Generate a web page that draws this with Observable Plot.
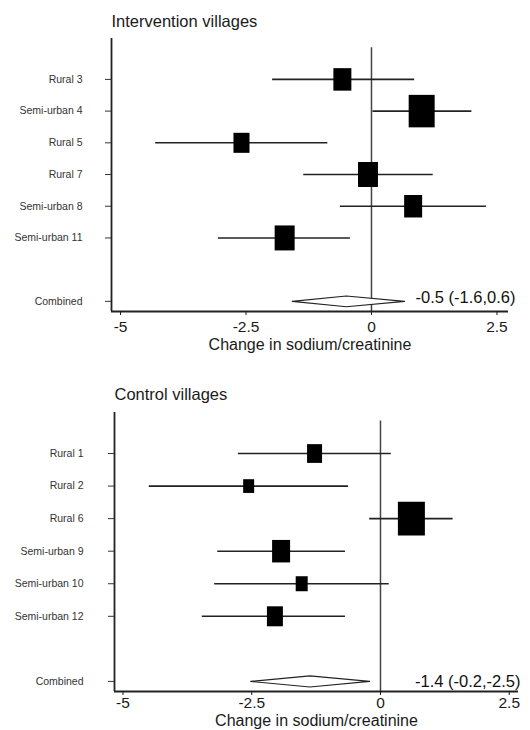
<!DOCTYPE html>
<html>
<head>
<meta charset="utf-8">
<script src="https://cdn.jsdelivr.net/npm/d3@7"></script>
<script src="https://cdn.jsdelivr.net/npm/@observablehq/plot@0.6"></script>
<style>
  body { margin: 0; background: #fff; font-family: "Liberation Sans", Arial, sans-serif; }
  #wrap { width: 530px; }
  svg { display: block; }
</style>
</head>
<body>
<div id="wrap"></div>
<script>
// ---- Data ----
const interVillages = ["Rural 3", "Semi-urban 4", "Rural 5", "Rural 7", "Semi-urban 8", "Semi-urban 11"];
const interEst = [-0.58, 1.0, -2.59, -0.07, 0.83, -1.73];
const interLo = [-1.97, 0.03, -4.30, -1.35, -0.62, -3.05];
const interHi = [0.86, 2.0, -0.87, 1.23, 2.29, -0.42];
const interWeight = [13.6, 28.4, 10.8, 16.8, 13.6, 16.8];
const interCombined = [-0.5, -1.58, 0.66];
const interCombinedLabel = "-0.5 (-1.6,0.6)";

const ctrlVillages = ["Rural 1", "Rural 2", "Rural 6", "Semi-urban 9", "Semi-urban 10", "Semi-urban 12"];
const ctrlEst = [-1.28, -2.56, 0.6, -1.93, -1.53, -2.05];
const ctrlLo = [-2.76, -4.49, -0.21, -3.16, -3.22, -3.46];
const ctrlHi = [0.21, -0.62, 1.41, -0.68, 0.17, -0.68];
const ctrlWeight = [12.5, 6.7, 40.5, 18.0, 8.0, 14.2];
const ctrlCombined = [-1.37, -2.52, -0.21];
const ctrlCombinedLabel = "-1.4 (-0.2,-2.5)";

const xTicks = [-5, -2.5, 0, 2.5];
const combinedName = "Combined";
const xLabel = "Change in sodium/creatinine";

// ---- Helpers ----
const tallSquare = {
  draw(ctx, size) {
    const r = Math.sqrt(size / Math.PI);
    ctx.rect(-r, -1.25 * r, 2 * r, 2.5 * r);
  }
};

function panel(opts) {
  const {title, villages, est, lo, hi, weight, combined, combinedLabel,
         height, marginTop, marginBottom, marginLeft, marginRight,
         xDomain, yDomain, rMax, titleDy, labelDy, combLabelDx, combLabelDy,
         yTickPadding, xTickSize, xTickPadding} = opts;
  const rows = villages.map((v, i) => ({name: v, row: i + 1, est: est[i], lo: lo[i], hi: hi[i], w: weight[i]}));
  const combRow = villages.length + 2;
  const names = new Map(rows.map(d => [d.row, d.name]));
  names.set(combRow, combinedName);
  const [cEst, cLo, cHi] = combined;
  const h = 0.17;
  const diamond = [
    {x: cLo, y: combRow}, {x: cEst, y: combRow - h}, {x: cHi, y: combRow},
    {x: cEst, y: combRow + h}, {x: cLo, y: combRow}
  ];
  return Plot.plot({
    width: 530,
    height,
    marginTop, marginBottom, marginLeft, marginRight,
    style: {fontFamily: "Liberation Sans, Arial, sans-serif", color: "#1a1a1a", background: "white"},
    x: {domain: xDomain},
    y: {domain: yDomain, reverse: true},
    r: {domain: [0, d3.max(weight)], range: [0, rMax]},
    marks: [
      Plot.ruleX([0], {y1: 0, y2: yDomain[1], stroke: "#444", strokeWidth: 1.5}),
      Plot.ruleY(rows, {y: "row", x1: "lo", x2: "hi", stroke: "#222", strokeWidth: 1.6}),
      Plot.dot(rows, {x: "est", y: "row", r: "w", symbol: tallSquare, fill: "black", stroke: "none"}),
      Plot.line(diamond, {x: "x", y: "y", fill: "white", stroke: "#222", strokeWidth: 1.1}),
      Plot.ruleX([xDomain[0]], {stroke: "#222", strokeWidth: 1.8}),
      Plot.ruleY([yDomain[1]], {stroke: "#222", strokeWidth: 1.8}),
      Plot.axisY({ticks: [...rows.map(d => d.row), combRow], tickFormat: d => names.get(d),
                  tickSize: 6, tickPadding: yTickPadding, fontSize: 10.5, stroke: "#333", fill: "#333", label: null}),
      Plot.axisX({ticks: xTicks, tickFormat: d => String(d), tickSize: xTickSize, tickPadding: xTickPadding,
                  fontSize: 15.5, label: null}),
      Plot.text([xLabel], {frameAnchor: "bottom", dy: labelDy, fontSize: 16, fill: "#1a1a1a", lineAnchor: "middle"}),
      Plot.text([title], {frameAnchor: "top-left", dy: titleDy, textAnchor: "start", fontSize: 16.5, fill: "#1a1a1a", lineAnchor: "middle"}),
      Plot.text([combinedLabel], {y: () => combRow, frameAnchor: "right", textAnchor: "end", dx: combLabelDx, dy: combLabelDy, fontSize: 16.5, fill: "#111"})
    ]
  });
}

const wrap = document.getElementById("wrap");
wrap.appendChild(panel({
  title: "Intervention villages",
  villages: interVillages, est: interEst, lo: interLo, hi: interHi, weight: interWeight,
  combined: interCombined, combinedLabel: interCombinedLabel,
  height: 362, marginTop: 38, marginBottom: 51, marginLeft: 111, marginRight: 22,
  xDomain: [-5.18, 2.73], yDomain: [-0.29, 8.32], rMax: 13,
  titleDy: -17, labelDy: 33, combLabelDx: 7, combLabelDy: -4,
  yTickPadding: 23, xTickSize: 4, xTickPadding: 5
}));
wrap.appendChild(panel({
  title: "Control villages",
  villages: ctrlVillages, est: ctrlEst, lo: ctrlLo, hi: ctrlHi, weight: ctrlWeight,
  combined: ctrlCombined, combinedLabel: ctrlCombinedLabel,
  height: 368, marginTop: 50, marginBottom: 39, marginLeft: 114, marginRight: 12,
  xDomain: [-5.165, 2.68], yDomain: [-0.26, 8.31], rMax: 13.5,
  titleDy: -17.5, labelDy: 29, combLabelDx: 2, combLabelDy: 0,
  yTickPadding: 25, xTickSize: 4, xTickPadding: 1
}));
</script>
</body>
</html>
